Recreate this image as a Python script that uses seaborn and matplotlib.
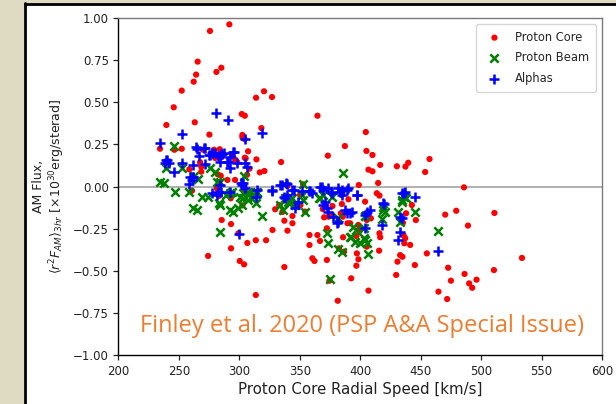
import numpy as np
import pandas as pd
import matplotlib
matplotlib.use("Agg")
import matplotlib.pyplot as plt
import seaborn as sns
from matplotlib.patches import Rectangle
from matplotlib.lines import Line2D

# ---------------- data ----------------
core_speed = [291.7,275.7,265.5,285.1,281,264.2,262.2,252.3,245.7,239.6,263.1,275.2,313.8,320.4,327,302,304.5,318.2,302.5,302.5,
    364.6,404.6,387.3,405.1,410.1,373.2,334.5,416.5,430.3,437.4,439.7,457.3,453.7,406.8,410.1,414.8,398.8,320.7,316.9,314.1,
    308.3,307.2,304.5,234.3,246.2,252.3,239.1,270,279,283.8,279.9,267.5,268.5,268.5,258.6,294.2,296.4,298.3,282.1,284.6,
    296.4,290.1,260.8,306.4,281.3,282.9,305,339.8,352.7,352.7,350.2,390.2,385,413.7,309.4,304.2,305.2,284.9,292.8,485.8,
    302.5,285.4,293.1,299.2,306.6,313.6,322.1,293.1,274.1,300.3,303.9,313.6,337.2,327.4,339.8,337.2,343.9,343.9,329.6,335.6,
    332.9,344.5,350.5,354.4,358,358,360.4,362.1,372.4,366.7,364.6,372.4,370.1,373.7,369,375.9,377,384.8,383.9,385.6,
    385.8,382.5,386.6,389.4,391.6,398.5,398.5,396.8,397.2,398.5,396.8,392.5,374.5,406.8,381.4,404,404.6,405.4,405.4,415.9,
    415.9,416.5,415.6,408.8,429.7,430.8,433,434.9,435.8,437.2,436.4,435.3,437.9,441.3,445.2,442.7,455.1,464.7,446,
    470.3,479.4,511,489.1,533.8,472.7,486.3,510.6,475,496.2,490.1,492.6,471.9]
core_flux = [0.962,0.923,0.741,0.705,0.680,0.664,0.622,0.569,0.470,0.365,0.381,0.308,0.527,0.565,0.531,0.430,0.420,0.347,0.306,0.292,
    0.420,0.323,0.240,0.211,0.187,0.183,0.145,0.128,0.120,0.118,0.141,0.163,0.086,0.100,0.090,0.021,0.009,0.092,0.084,0.161,
    0.106,0.209,0.171,0.224,0.218,0.224,0.139,0.218,0.218,0.221,0.169,0.144,0.118,0.088,0.102,0.181,0.161,0.144,0.072,0.064,
    0.039,0.039,-0.025,0.070,-0.011,-0.056,-0.021,0.005,0.013,-0.037,-0.050,-0.076,-0.050,-0.040,-0.046,0.282,0.167,0.173,-0.070,-0.005,
    -0.112,-0.199,-0.223,-0.278,-0.335,-0.319,-0.319,-0.367,-0.412,-0.442,-0.462,-0.644,-0.478,-0.258,-0.262,-0.203,-0.218,-0.175,-0.135,-0.151,
    -0.110,-0.110,-0.110,-0.149,-0.288,-0.347,-0.426,-0.442,-0.436,-0.323,-0.288,-0.248,-0.183,-0.179,-0.134,-0.165,-0.116,-0.104,-0.159,-0.179,
    -0.301,-0.367,-0.387,-0.218,-0.218,-0.228,-0.258,-0.294,-0.397,-0.432,-0.470,-0.545,-0.559,-0.618,-0.678,-0.090,-0.165,-0.199,-0.357,-0.054,
    -0.278,-0.301,-0.381,-0.189,-0.525,-0.446,-0.407,-0.417,-0.288,-0.307,-0.337,-0.215,-0.159,-0.347,-0.466,-0.110,-0.397,-0.624,-0.199,
    -0.167,-0.144,-0.157,-0.232,-0.424,-0.482,-0.519,-0.496,-0.559,-0.553,-0.575,-0.601,-0.668]

beam_speed = [245.7,239.1,252.3,234.6,237.9,246.5,258.6,265.5,262.5,268.9,274.3,275.7,279.9,281.3,284,293.7,303.3,313,303.9,386.1,
    352.7,435.8,262,264.7,284,292.3,295,299.2,302,289,292.3,300.6,303.3,307,307.4,314.9,307.4,284,282.9,312.1,
    313.5,319.1,337.8,342,346.1,351.7,353,366.8,369.5,376.5,372.4,373.7,375.1,382,384.8,391.6,394.4,402.7,405.4,406.8,
    404,403.5,419.2,420.6,431.6,438,445.4,464.7,434.5,433,434.5,419.2,417.9,404,404,399.9,396.3,392.2,333.7,336.4,
    340.6,343.4,354.4,365.9,382,395.7,314.9]
beam_flux = [0.242,0.108,0.108,0.028,0.019,-0.034,-0.031,0.045,0.062,-0.061,-0.064,0.108,0.088,0.028,0.028,-0.031,-0.040,-0.031,0.062,0.082,
    0.013,-0.061,-0.129,-0.139,-0.110,-0.139,-0.149,-0.129,-0.110,-0.050,-0.040,-0.061,-0.070,-0.050,-0.031,-0.031,-0.080,-0.272,-0.100,-0.061,
    -0.100,-0.175,-0.070,-0.096,-0.110,-0.050,-0.080,-0.070,-0.050,-0.061,-0.278,-0.337,-0.551,-0.373,-0.387,-0.298,-0.238,-0.307,-0.337,-0.401,
    -0.175,-0.248,-0.120,-0.149,-0.149,-0.070,-0.149,-0.262,-0.090,-0.209,-0.080,-0.139,-0.195,-0.177,-0.318,-0.337,-0.258,-0.298,-0.110,-0.139,
    -0.090,-0.070,-0.149,-0.070,-0.189,-0.327,-0.037]

alpha_speed = [234.3,252.3,281,290.4,318.6,304.7,264.7,271.6,266.6,274.8,277.6,284.5,287.3,294.5,239.1,238.5,246.2,252.8,261.9,271.6,
    284,290.1,297.8,304.7,258.6,261.9,284,284.6,303.3,313.8,327.3,333.7,338.4,343.9,358.5,366.7,373.6,375.5,383.3,390.2,
    397.2,436.6,445.4,337.2,239.8,241.7,263.8,270.7,275.7,279.9,282.6,285.4,295.4,290.9,292.3,306.6,259.2,262,260.6,301.1,
    302.5,304.6,314.9,292.3,277,281.3,282.6,300.1,292.3,327,335.6,339.8,345.3,352.1,357.6,360.4,368,369.4,370.8,369.4,
    372.1,373.6,376.3,382,384.8,388.9,377.7,380.5,391.6,387.5,337.8,339.2,348.8,346.1,384.8,397.2,389.4,393.5,405.4,408.2,
    404,419.2,417.9,434.5,437.2,434.5,433,431.6,464.7,404,381.4,420,433]
alpha_flux = [0.260,0.310,0.434,0.395,0.319,0.280,0.223,0.230,0.183,0.187,0.197,0.193,0.197,0.207,0.157,0.138,0.088,0.138,0.128,0.132,
    0.144,0.144,0.138,0.138,0.013,0.058,0.009,-0.031,0.019,-0.061,-0.021,0.009,0.019,-0.021,-0.025,-0.001,-0.011,-0.034,-0.031,-0.011,
    -0.050,-0.037,-0.061,-0.061,0.157,0.138,0.236,0.227,0.187,0.197,0.181,0.191,0.207,0.147,0.108,0.118,0.058,0.058,0.039,0.019,
    0.009,-0.011,-0.021,-0.031,-0.040,-0.050,-0.031,-0.282,0.177,-0.025,0.009,0.013,-0.021,-0.025,-0.025,-0.040,-0.001,-0.021,-0.090,-0.110,
    -0.129,-0.149,-0.040,-0.011,-0.050,-0.021,-0.179,-0.218,-0.159,-0.139,-0.070,-0.050,-0.090,-0.129,-0.021,-0.050,-0.159,-0.149,-0.149,-0.139,
    -0.169,-0.100,-0.228,-0.040,-0.031,-0.189,-0.268,-0.318,-0.381,-0.248,-0.213,-0.106,-0.183]

series_names = ["Proton Core", "Proton Beam", "Alphas"]
x_ticks = [200, 250, 300, 350, 400, 450, 500, 550, 600]
y_ticks = [-1.00, -0.75, -0.50, -0.25, 0.00, 0.25, 0.50, 0.75, 1.00]
annotation = "Finley et al. 2020 (PSP A&A Special Issue)"

# ---------------- figure ----------------
sns.set_style("ticks")
plt.rcParams['font.family'] = ['DejaVu Sans']

fig = plt.figure(figsize=(6.16, 4.04), dpi=100)
fig.patch.set_facecolor("white")
# slide background strips
fig.patches.append(Rectangle((0, 0), 24/616, 1, transform=fig.transFigure,
                             facecolor="#dedbc2", edgecolor="none", zorder=0))
fig.patches.append(Rectangle((0, 1 - 3/404), 1, 3/404, transform=fig.transFigure,
                             facecolor="#dedbc2", edgecolor="none", zorder=0))
fig.lines.append(Line2D([24.5/616, 24.5/616], [0, 1 - 3/404], transform=fig.transFigure,
                        color="black", lw=2))
fig.lines.append(Line2D([24.5/616, 1], [1 - 4/404, 1 - 4/404], transform=fig.transFigure,
                        color="black", lw=2))

ax = fig.add_axes([118.5/616, 1 - 355/404, (602 - 118.5)/616, (355 - 18)/404])

ax.axhline(0, color="#b0b0b0", lw=1.4, zorder=1)

sns.scatterplot(x=core_speed, y=core_flux, ax=ax, color="red", marker="o",
                s=20, edgecolor="none", label=series_names[0], zorder=2)
sns.scatterplot(x=beam_speed, y=beam_flux, ax=ax, color="green", marker="x",
                s=36, linewidth=1.8, label=series_names[1], zorder=3)
sns.scatterplot(x=alpha_speed, y=alpha_flux, ax=ax, color="blue", marker="+",
                s=42, linewidth=1.8, label=series_names[2], zorder=4)

ax.set_xlim(200, 600)
ax.set_ylim(-1.0, 1.0)
ax.set_xticks(x_ticks)
ax.set_yticks(y_ticks)
ax.set_yticklabels([f"{v:.2f}".replace("-", "\u2212") for v in y_ticks])
ax.tick_params(labelsize=8.5, length=3.5, width=0.9, colors="#222222")

for s in ["left", "bottom"]:
    ax.spines[s].set_color("black")
    ax.spines[s].set_linewidth(1.0)
for s in ["top", "right"]:
    ax.spines[s].set_visible(True)
    ax.spines[s].set_color("#7a7a7a")
    ax.spines[s].set_linewidth(1.0)

ax.set_xlabel("Proton Core Radial Speed [km/s]", fontsize=10.8, color="#222222", labelpad=3)
ax.set_ylabel("AM Flux,\n" r"$\langle r^2F_{AM}\rangle_{3hr}$ [$\times 10^{30}$erg/sterad]",
              fontsize=9, color="#222222", labelpad=4)

leg = ax.legend(loc="upper right", fontsize=8.3, frameon=True, borderpad=0.6,
                handletextpad=0.8, labelspacing=0.65, markerscale=1.0)
leg.get_frame().set_edgecolor("#cccccc")

ax.text(0.503, 0.085, annotation, transform=ax.transAxes, ha="center", va="center",
        fontsize=17, color="#ED7D31", family="Open Sans", zorder=6,
        bbox=dict(facecolor="white", edgecolor="none", pad=2))

fig.savefig("out.png", dpi=100, facecolor=fig.get_facecolor())
